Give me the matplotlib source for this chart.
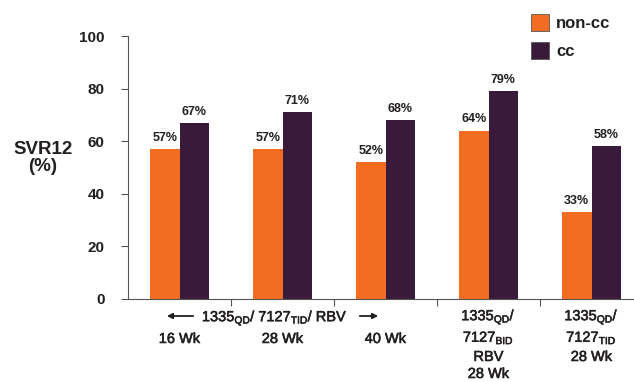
import matplotlib
matplotlib.use("Agg")
import matplotlib.pyplot as plt
import matplotlib.patheffects as pe
import numpy as np

plt.rcParams['font.family'] = ['Liberation Sans', 'DejaVu Sans']
plt.rcParams['mathtext.fontset'] = 'custom'
plt.rcParams['mathtext.rm'] = 'Liberation Sans'
plt.rcParams['mathtext.it'] = 'Liberation Sans'
plt.rcParams['mathtext.bf'] = 'Liberation Sans:bold'

series_names = ["non-cc", "cc"]
non_cc = [57, 57, 52, 64, 33]
cc = [67, 71, 68, 79, 58]
y_ticks = [0, 20, 40, 60, 80, 100]

orange = "#F26C22"
purple = "#3A1A3B"
txt = "#231F20"
thick = [pe.withStroke(linewidth=0.4, foreground=txt)]

fig = plt.figure(figsize=(6.34, 3.82), dpi=100)
ax = fig.add_axes([128/634, 83/382, (634-128)/634, (299-36)/382])

x = np.arange(len(non_cc))
w = 0.285
b1 = ax.bar(x - w/2, non_cc, w, color=orange, label=series_names[0])
b2 = ax.bar(x + w/2, cc, w, color=purple, label=series_names[1])

for bars, vals in ((b1, non_cc), (b2, cc)):
    for r, v in zip(bars, vals):
        ax.text(r.get_x() + r.get_width()/2, v + 2.0, f"{v}%", ha='center', va='bottom',
                fontsize=9, fontweight='bold', color=txt)

ax.set_xlim(-0.5, -0.5 + 506/103)
ax.set_ylim(0, 100)
ax.set_yticks(y_ticks)
ax.set_yticklabels([str(t) for t in y_ticks], fontsize=11, fontweight='bold', color=txt)
ax.set_xticks([0.5, 1.5, 2.5, 3.5])
ax.set_xticklabels([])
ax.tick_params(axis='y', length=5, width=0.8, color='#555555', pad=12)
ax.tick_params(axis='x', length=5, width=0.8, color='#555555')
for s in ('top', 'right'):
    ax.spines[s].set_visible(False)
for s in ('left', 'bottom'):
    ax.spines[s].set_color('#555555')
    ax.spines[s].set_linewidth(0.8)

fig.text(43/634, 1 - 158/382, "SVR12\n(%)", ha='center', va='center', fontsize=13.5,
         fontweight='bold', color=txt, linespacing=1.05)

trans = ax.get_xaxis_transform()
fs = 10.5

def yf(ypix):
    return (299 - ypix) / (299 - 36)

def px(xpix):
    return (xpix - 128) / 103 - 0.5

def put(xv, ypix, s):
    ax.text(xv, yf(ypix), s, transform=trans, ha='center', va='center', fontsize=fs,
            color=txt, path_effects=thick)

mid = r"1335$_{\mathregular{QD}}$/ 7127$_{\mathregular{TID}}$/ RBV"
put(px(275), 318, mid)
ax.annotate('', xy=(px(164), yf(316)), xytext=(px(196), yf(316)), xycoords=trans,
            arrowprops=dict(arrowstyle='-|>', color=txt, lw=1.3, mutation_scale=8))
ax.annotate('', xy=(px(381), yf(316)), xytext=(px(357), yf(316)), xycoords=trans,
            arrowprops=dict(arrowstyle='-|>', color=txt, lw=1.3, mutation_scale=8))
for xv, s in ((0, "16 Wk"), (1, "28 Wk"), (2, "40 Wk")):
    put(xv, 339, s)

g4 = [r"1335$_{\mathregular{QD}}$/", r"7127$_{\mathregular{BID}}$", "RBV", "28 Wk"]
for s, yp in zip(g4, (317, 338, 357, 374)):
    put(3, yp, s)
g5 = [r"1335$_{\mathregular{QD}}$/", r"7127$_{\mathregular{TID}}$", "28 Wk"]
for s, yp in zip(g5, (317, 338, 357)):
    put(4, yp, s)

leg = ax.legend(loc='upper left', bbox_to_anchor=(531/634, 1 - 14/382), bbox_transform=fig.transFigure,
                frameon=False, prop={'weight': 'bold', 'size': 12}, borderpad=0, borderaxespad=0,
                handlelength=1.1, handleheight=1.2, handletextpad=0.4, labelspacing=0.65)
for h in leg.legend_handles:
    h.set_edgecolor('#555555')
    h.set_linewidth(0.6)
for t in leg.get_texts():
    t.set_color(txt)

fig.savefig("out.png", dpi=100)
